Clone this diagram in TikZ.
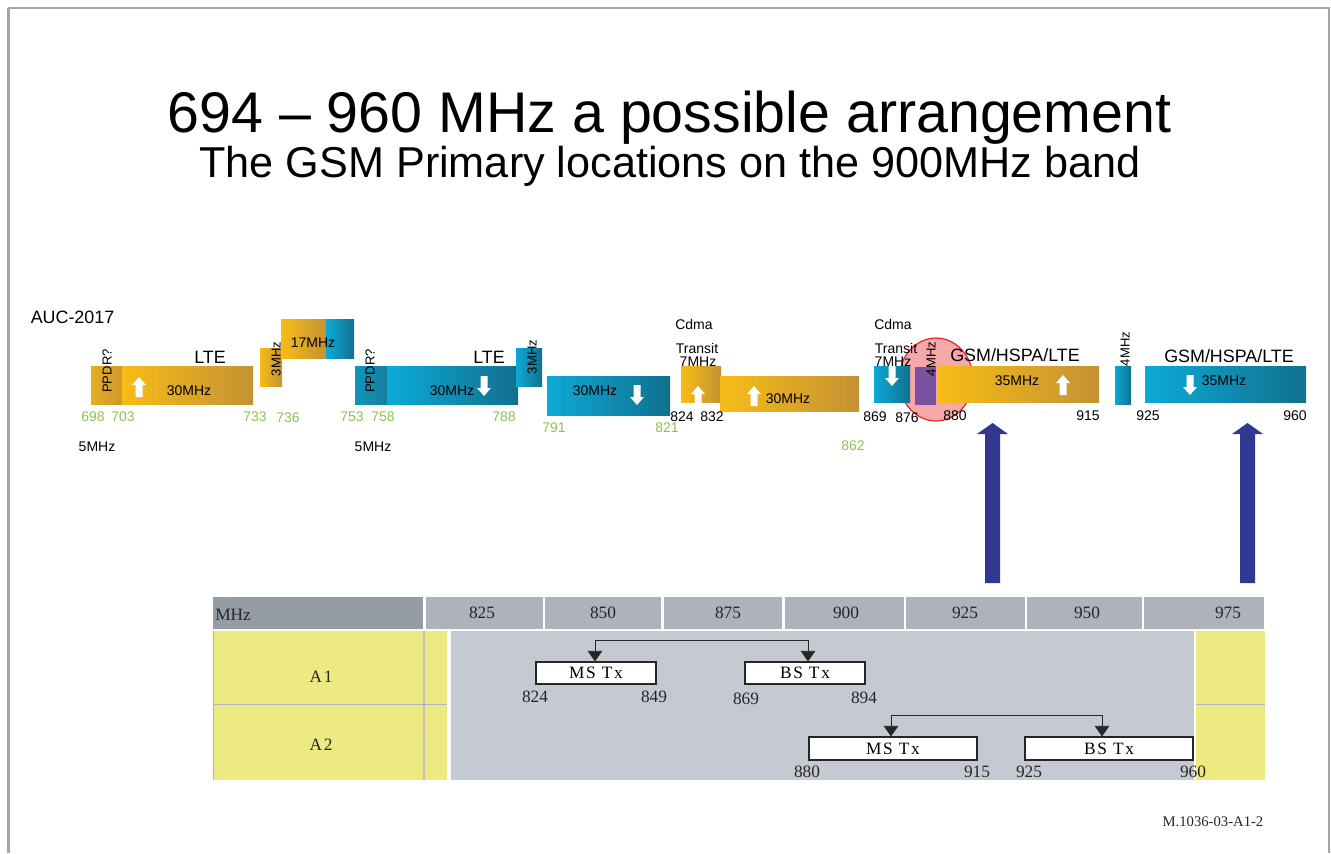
\documentclass[tikz,border=0pt]{standalone}
\usepackage{fontspec}
\setmainfont{Liberation Sans}
\newfontfamily\serifx{Liberation Serif}
\newfontfamily\serifsp[LetterSpace=10]{Liberation Serif}
\usetikzlibrary{arrows.meta,calc}
\newcommand{\myfs}[1]{\fontsize{#1}{#1}\selectfont}
\definecolor{orL}{RGB}{248,188,22}
\definecolor{orD}{RGB}{196,146,52}
\definecolor{orP}{RGB}{205,152,45}
\definecolor{blL}{RGB}{12,170,215}
\definecolor{blD}{RGB}{18,112,142}
\definecolor{blP}{RGB}{22,128,160}
\definecolor{purp}{RGB}{122,82,160}
\definecolor{circF}{RGB}{244,168,168}
\definecolor{circD}{RGB}{228,40,40}
\definecolor{grn}{RGB}{140,195,80}
\definecolor{navy}{RGB}{50,55,145}
\definecolor{tyel}{RGB}{236,234,128}
\definecolor{tgray}{RGB}{197,201,209}
\definecolor{hdrD}{RGB}{150,156,164}
\definecolor{hdrL}{RGB}{174,178,186}
\definecolor{framec}{RGB}{165,165,165}
\definecolor{ylin}{RGB}{175,178,200}
\newcommand{\mywup}[2]{\fill[white] ({#1},{#2}) -- ({#1+7},{#2+8}) -- ({#1+3.5},{#2+8}) -- ({#1+3.5},{#2+20}) -- ({#1-3.5},{#2+20}) -- ({#1-3.5},{#2+8}) -- ({#1-7},{#2+8}) -- cycle;}
\newcommand{\mywdn}[2]{\fill[white] ({#1},{#2+20}) -- ({#1+7},{#2+12}) -- ({#1+3.5},{#2+12}) -- ({#1+3.5},{#2}) -- ({#1-3.5},{#2}) -- ({#1-3.5},{#2+12}) -- ({#1-7},{#2+12}) -- cycle;}
\begin{document}
\begin{tikzpicture}[x=0.75pt,y=-0.75pt,
  orb/.style={left color=orL,right color=orD},
  orpp/.style={left color=orL!60!orP,right color=orP},
  blb/.style={left color=blL,right color=blD},
  blpp/.style={left color=blL!50!blP,right color=blP},
  lbl/.style={font=\myfs{10.5}, inner sep=0pt},
  bigl/.style={font=\myfs{13.4}, inner sep=0pt},
  gnum/.style={font=\myfs{10.5}, text=grn, inner sep=0pt},
  knum/.style={font=\myfs{10.5}, inner sep=0pt},
  rot/.style={font=\myfs{9.8}, rotate=90, inner sep=0pt},
  tnum/.style={font=\serifx\myfs{13}, text=black!85, inner sep=0pt},
  tlab/.style={font=\serifsp\myfs{13}, text=black!85, inner sep=0pt},
  txbox/.style={draw=black!85, fill=white, line width=0.8pt, inner sep=0pt, font=\serifsp\myfs{13}},
  conn/.style={line width=0.7pt, draw=black!85, {Triangle[width=11pt,length=8pt]}-{Triangle[width=11pt,length=8pt]}},
  bigarr/.style={fill=navy}
]
\useasboundingbox (0,0) rectangle (1331,853);
% frame
\draw[framec, line width=1.6pt] (8.5,853) -- (8.5,8);
\draw[framec, line width=0.9pt] (8,8) -- (1329,8) -- (1329,853);
% titles
\node[anchor=base, inner sep=0pt, font=\myfs{43}] (title) at (669.5,132) {694 – 960 MHz a possible arrangement};
\node[anchor=base, inner sep=0pt, font=\myfs{32.4}] (subtitle) at (670,177) {The GSM Primary locations on the 900MHz band};
\node[font=\myfs{13.4}, inner sep=0pt] (auc) at (72.5,317) {AUC-2017};
% red circle (behind)
\filldraw[fill=circF, draw=circD, line width=0.9pt] (936,379.5) ellipse [x radius=27.75pt, y radius=31.1pt];
% ---- 700 band orange
\shade[orpp] (91,366) rectangle (122,404);
\shade[orb] (122,366) rectangle (253,404);
\shade[orb] (260,348) rectangle (282,386);
\shade[orb] (281,319) rectangle (326,358);
\shade[blb] (326,319) rectangle (354,358);
\mywup{139}{377}
% ---- 700 band blue
\shade[blpp] (355,366) rectangle (387,404);
\shade[blb] (387,366) rectangle (518,404);
\shade[blb] (516,348) rectangle (542,386);
\shade[blb] (547,376) rectangle (670,415);
\mywdn{484}{376}
\mywdn{637}{385}
% ---- 800 band
\shade[orb] (681,366) rectangle (721,402);
\shade[orb] (720,376) rectangle (859,411);
\mywup{698}{386}
\mywup{754}{386}
% ---- 900 band
\shade[blb] (874,366) rectangle (910,402);
\fill[purp] (915,367) rectangle (936,405);
\shade[orb] (937,366) rectangle (1099,402);
\shade[blb] (1115,366) rectangle (1131,404);
\shade[blb] (1145,366) rectangle (1306,402);
\mywdn{892}{366}
\mywup{1063}{375}
\mywdn{1190}{375}
% labels in band
\node[rot] (pp1) at (107,371) {PPDR?};
\node[bigl] (lte1) at (210,357) {LTE};
\node[lbl] (m1) at (189,391) {30MHz};
\node[rot] (m3a) at (276,359) {3MHz};
\node[lbl] (m17) at (313,343) {17MHz};
\node[rot] (pp2) at (370,371) {PPDR?};
\node[bigl] (lte2) at (489,357) {LTE};
\node[lbl] (m2) at (452,391) {30MHz};
\node[rot] (m3b) at (532,357) {3MHz};
\node[lbl] (m4) at (595,391) {30MHz};
\node[lbl] (cd1) at (694,324) {Cdma};
\node[lbl] (tr1) at (697,348) {Transit};
\node[lbl] (s71) at (698,362) {7MHz};
\node[lbl] (m5) at (788,399) {30MHz};
\node[lbl] (cd2) at (893,324) {Cdma};
\node[lbl] (tr2) at (896,348) {Transit};
\node[lbl] (s72) at (893,362) {7MHz};
\node[rot] (m4a) at (931,359) {4MHz};
\node[bigl] (gsm1) at (1015,355) {GSM/HSPA/LTE};
\node[lbl] (m35a) at (1017,381) {35MHz};
\node[rot] (m4b) at (1125,349) {4MHz};
\node[bigl] (gsm2) at (1229,356) {GSM/HSPA/LTE};
\node[lbl] (m35b) at (1224,381) {35MHz};
% numbers
\node[gnum] (n698) at (93,417) {698};
\node[gnum] (n703) at (123,417) {703};
\node[gnum] (n733) at (255,417) {733};
\node[gnum] (n736) at (288,418) {736};
\node[gnum] (n753) at (352,417) {753};
\node[gnum] (n758) at (383,417) {758};
\node[gnum] (n788) at (504,417) {788};
\node[gnum] (n791) at (554,428) {791};
\node[gnum] (n821) at (667,428) {821};
\node[gnum] (n862) at (853,446) {862};
\node[knum] (n824) at (682,417) {824};
\node[knum] (n832) at (712,417) {832};
\node[knum] (n869) at (875,417) {869};
\node[knum] (n876) at (907,418) {876};
\node[knum] (n880) at (955,416) {880};
\node[knum] (n915) at (1088,416) {915};
\node[knum] (n925) at (1148,416) {925};
\node[knum] (n960) at (1295,416) {960};
\node[knum] (f1) at (97,447) {5MHz};
\node[knum] (f2) at (373,447) {5MHz};
% big navy arrows
\fill[bigarr] (985,583) -- (985,434) -- (977,434) -- (992.5,423) -- (1008,434) -- (1000,434) -- (1000,583) -- cycle;
\fill[bigarr] (1240,583) -- (1240,434) -- (1232,434) -- (1247.5,423) -- (1263,434) -- (1255,434) -- (1255,583) -- cycle;
% ---- table
\fill[hdrD] (213,597) rectangle (423,629);
\foreach \a/\b in {426/543,545/661,664/782,785/904,906/1025,1027/1142,1144/1264}
  \fill[hdrL] (\a,597) rectangle (\b,629);
\node[tnum, anchor=west] (hmhz) at (215,615) {MHz};
\node[tnum] (h825) at (482,613) {825};
\node[tnum] (h850) at (603,613) {850};
\node[tnum] (h875) at (728,613) {875};
\node[tnum] (h900) at (846,613) {900};
\node[tnum] (h925) at (965,613) {925};
\node[tnum] (h950) at (1087,613) {950};
\node[tnum] (h975) at (1228,613) {975};
\fill[tyel] (213,631) rectangle (447,780);
\fill[tgray] (451,631) rectangle (1194,780);
\fill[tyel] (1196,631) rectangle (1265,780);
\draw[black!30, line width=0.9pt] (213.5,631) -- (213.5,780);
\draw[black!25, line width=0.9pt] (424,631) -- (424,780);
\draw[ylin, line width=0.7pt] (213,704) -- (447,704);
\draw[ylin, line width=0.7pt] (1196,704) -- (1265,704);
\node[tlab] (a1) at (321,677) {A1};
\node[tlab] (a2) at (321,745) {A2};
\node[txbox, minimum width=90pt, minimum height=16.5pt] (ms1) at (596,673) {MS Tx};
\node[txbox, minimum width=90pt, minimum height=16.5pt] (bs1) at (805,673) {BS Tx};
\node[txbox, minimum width=126pt, minimum height=17.25pt] (ms2) at (893,748.5) {MS Tx};
\node[txbox, minimum width=126pt, minimum height=17.25pt] (bs2) at (1109,748.5) {BS Tx};
\draw[conn] ($(ms1.north)+(-1,0)$) -- ++(0,-21) -| ($(bs1.north)+(3,0)$);
\draw[conn] ($(ms2.north)+(-2,0)$) -- ++(0,-21) -| ($(bs2.north)+(-7,0)$);
\node[tnum] (t824) at (535,697) {824};
\node[tnum] (t849) at (654,697) {849};
\node[tnum] (t869) at (746,699) {869};
\node[tnum] (t894) at (864,698) {894};
\node[tnum] (t880) at (807,772) {880};
\node[tnum] (t915) at (977,772) {915};
\node[tnum] (t925) at (1029,772) {925};
\node[tnum] (t960) at (1193,772) {960};
\node[font=\serifx\myfs{11}, text=black!85, inner sep=0pt] (ref) at (1213,822) {M.1036-03-A1-2};
\end{tikzpicture}
\end{document}
